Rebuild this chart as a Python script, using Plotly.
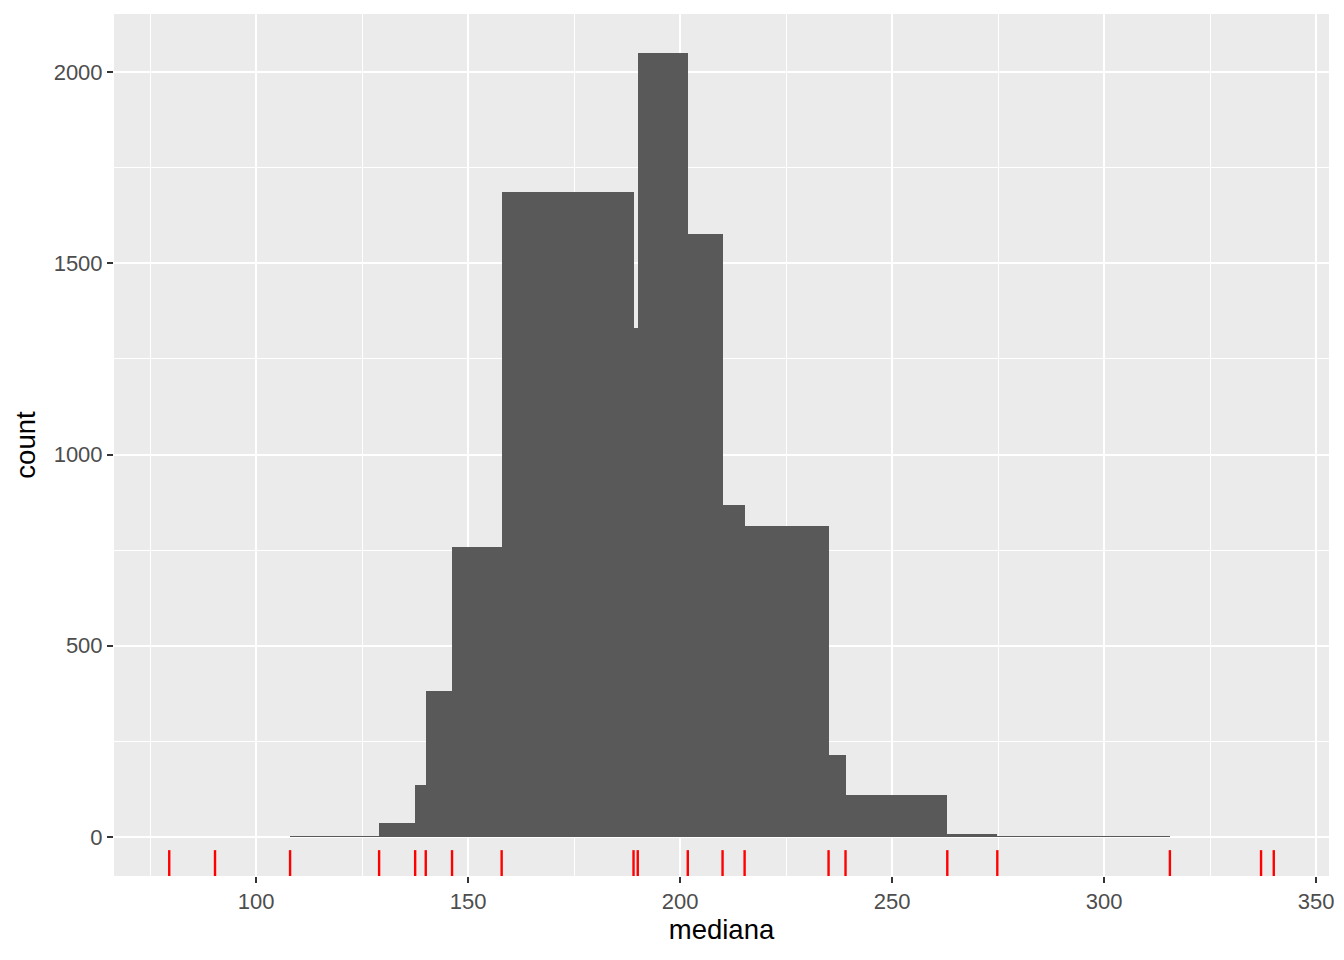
import plotly.graph_objects as go

# Sample values (shown as the red rug)
sample_values = [79.5, 90.3, 108.0, 129.0, 137.5, 140.0, 146.2, 157.9, 189.0, 190.0,
                 201.8, 210.0, 215.2, 235.0, 239.0, 263.0, 274.8, 315.5, 337.0, 340.0]

# Histogram bin edges (breaks) and counts of the bootstrap medians
bin_edges = [108.0, 129.0, 137.5, 140.0, 146.2, 157.9, 189.0, 190.0, 201.8, 210.0,
             215.2, 235.0, 239.0, 263.0, 274.8, 315.5]
bin_counts = [2, 35, 136, 382, 759, 1688, 1332, 2050, 1576, 869, 814, 215, 110, 8, 2]

x_ticks = [100, 150, 200, 250, 300, 350]
y_ticks = [0, 500, 1000, 1500, 2000]

lefts = bin_edges[:-1]
widths = [b - a for a, b in zip(bin_edges[:-1], bin_edges[1:])]

fig = go.Figure()
fig.add_trace(go.Bar(
    x=lefts, y=bin_counts, width=widths, offset=0,
    marker=dict(color="#595959", line=dict(width=0)),
    showlegend=False, hoverinfo="x+y",
))

# rug
for v in sample_values:
    fig.add_shape(type="line", xref="x", yref="y domain", x0=v, x1=v, y0=0, y1=0.03,
                  line=dict(color="red", width=2.4), layer="above")

xmin, xmax = min(sample_values), max(sample_values)
xpad = (xmax - xmin) * 0.05
ymax = max(bin_counts)
ypad = ymax * 0.05

tick_font = dict(family="Liberation Sans, Arial, sans-serif", size=22, color="#4D4D4D")
title_font = dict(family="Liberation Sans, Arial, sans-serif", size=27.5, color="black")

fig.update_layout(
    width=1344, height=960,
    margin=dict(l=106, r=23, t=6, b=92, autoexpand=False),
    paper_bgcolor="white", plot_bgcolor="#EBEBEB",
    bargap=0,
    xaxis=dict(
        range=[xmin - xpad, xmax + xpad], tickvals=x_ticks,
        ticktext=[str(t) for t in x_ticks],
        showgrid=True, gridcolor="white", gridwidth=2.4,
        minor=dict(showgrid=True, gridcolor="white", gridwidth=1.2, dtick=25, tick0=75),
        zeroline=False, showline=False,
        ticks="outside", ticklen=6, tickwidth=2, tickcolor="#333333",
        tickfont=tick_font,
        title=dict(text="mediana", font=title_font, standoff=4),
    ),
    yaxis=dict(
        range=[-ypad, ymax + ypad], tickvals=y_ticks,
        ticktext=[str(t) for t in y_ticks],
        showgrid=True, gridcolor="white", gridwidth=2.4,
        minor=dict(showgrid=True, gridcolor="white", gridwidth=1.2, dtick=250, tick0=250),
        zeroline=False, showline=False,
        ticks="outside", ticklen=6, tickwidth=2, tickcolor="#333333",
        tickfont=tick_font,
        title=dict(text="count", font=title_font, standoff=10),
    ),
)

fig.write_html("out.html")
